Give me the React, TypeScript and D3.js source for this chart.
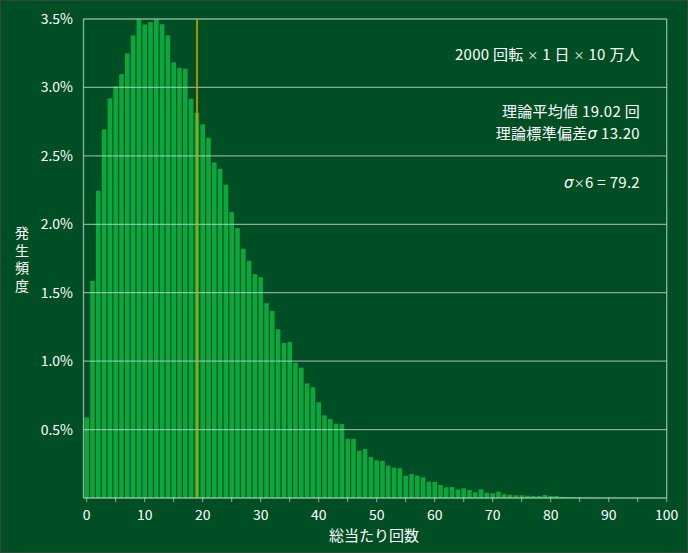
import React from 'react';
import * as d3 from 'd3';

// frequency (%) of total hits 0..99
const hitCounts = d3.range(0, 100);
const frequencies = [
  0.589, 1.587, 2.245, 2.693, 2.92, 3.007, 3.097, 3.248, 3.38, 3.497,
  3.46, 3.477, 3.497, 3.462, 3.38, 3.183, 3.143, 3.136, 2.917, 2.815,
  2.73, 2.632, 2.452, 2.405, 2.289, 2.089, 1.972, 1.821, 1.733, 1.636,
  1.614, 1.423, 1.367, 1.233, 1.134, 1.14, 0.988, 0.952, 0.838, 0.809,
  0.699, 0.604, 0.577, 0.543, 0.541, 0.433, 0.433, 0.346, 0.358, 0.299,
  0.275, 0.272, 0.236, 0.221, 0.217, 0.163, 0.175, 0.163, 0.151, 0.119,
  0.117, 0.095, 0.078, 0.08, 0.063, 0.071, 0.058, 0.041, 0.063, 0.039,
  0.034, 0.046, 0.027, 0.024, 0.02, 0.02, 0.017, 0.015, 0.015, 0.022,
  0.015, 0.015, 0.008, 0.007, 0.006, 0.006, 0.005, 0.004, 0.004, 0.003,
  0.003, 0.002, 0.002, 0.002, 0.001, 0.001, 0.001, 0.001, 0, 0,
];
const yTicks = [0.5, 1.0, 1.5, 2.0, 2.5, 3.0, 3.5];
const xLabelTicks = [0, 10, 20, 30, 40, 50, 60, 70, 80, 90, 100];
const xMinorTicks = d3.range(0, 101, 5);
const theoreticalMean = 19.02;
// each note is a list of [text, style] parts; style 'x' = small times sign, 's' = italic sigma
const notes: [string, string][][] = [
  [['2000 回転 ', ''], ['×', 'x'], [' 1 日 ', ''], ['×', 'x'], [' 10 万人', '']],
  [['理論平均値 19.02 回', '']],
  [['理論標準偏差', ''], ['σ', 's'], ['  13.20', '']],
  [['σ', 's'], ['×', 'x'], ['6 = 79.2', '']],
];
const yTitle = '発生頻度';
const xTitle = '総当たり回数';

const W = 688;
const H = 553;
const FONT = '"Noto Sans CJK JP", "Noto Sans", sans-serif';

export default function App() {
  const svgRef = React.useRef<SVGSVGElement | null>(null);

  React.useEffect(() => {
    const svg = d3.select(svgRef.current);
    svg.selectAll('*').remove();

    const left = 83.5, right = 666.7, top = 19, bottom = 498;
    const x = d3.scaleLinear().domain([-0.55, 100]).range([left, right]);
    const y = d3.scaleLinear().domain([0, 3.5]).range([bottom, top]);
    const bw = 4.6;

    svg.append('rect').attr('width', W).attr('height', H).attr('fill', '#004e24');
    svg.append('rect').attr('x', 0.5).attr('y', 0.5).attr('width', W - 1).attr('height', H - 1)
      .attr('fill', 'none').attr('stroke', '#2f4a3a').attr('stroke-width', 1);

    // Bars
    svg.append('g')
      .selectAll('rect')
      .data(hitCounts)
      .join('rect')
      .attr('x', d => x(d) - bw / 2)
      .attr('width', bw)
      .attr('y', d => y(frequencies[d]))
      .attr('height', d => bottom - y(frequencies[d]))
      .attr('fill', '#0aa83c');

    // Grid
    svg.append('g')
      .selectAll('line')
      .data(yTicks)
      .join('line')
      .attr('x1', left).attr('x2', right)
      .attr('y1', d => y(d)).attr('y2', d => y(d))
      .attr('stroke', 'rgba(190,215,195,0.7)')
      .attr('stroke-width', 1.3);

    // Frame
    const frame = 'rgba(190,215,195,0.75)';
    svg.append('line').attr('x1', left).attr('x2', left).attr('y1', top).attr('y2', bottom).attr('stroke', frame).attr('stroke-width', 1.3);
    svg.append('line').attr('x1', right).attr('x2', right).attr('y1', top).attr('y2', bottom).attr('stroke', frame).attr('stroke-width', 1.3);
    svg.append('line').attr('x1', left).attr('x2', right).attr('y1', bottom).attr('y2', bottom).attr('stroke', frame).attr('stroke-width', 1.3);

    // x ticks
    svg.append('g')
      .selectAll('line')
      .data(xMinorTicks)
      .join('line')
      .attr('x1', d => x(d)).attr('x2', d => x(d))
      .attr('y1', bottom).attr('y2', bottom + 4)
      .attr('stroke', frame).attr('stroke-width', 1);

    svg.append('g')
      .selectAll('text')
      .data(xLabelTicks)
      .join('text')
      .attr('x', d => x(d))
      .attr('y', bottom + 22)
      .attr('text-anchor', 'middle')
      .attr('fill', '#ffffff')
      .attr('font-family', FONT)
      .attr('font-size', 14)
      .text(d => d);

    // y labels
    svg.append('g')
      .selectAll('text')
      .data(yTicks)
      .join('text')
      .attr('x', 73)
      .attr('y', d => y(d) + 5)
      .attr('text-anchor', 'end')
      .attr('fill', '#ffffff')
      .attr('font-family', FONT)
      .attr('font-size', 14)
      .text(d => `${d.toFixed(1)}%`);

    // mean line
    svg.append('line')
      .attr('x1', x(theoreticalMean)).attr('x2', x(theoreticalMean))
      .attr('y1', top).attr('y2', bottom)
      .attr('stroke', '#c9a400').attr('stroke-width', 1.6);

    // notes
    const noteY = [60, 117, 139, 188];
    const nt = svg.append('g')
      .selectAll('text')
      .data(notes)
      .join('text')
      .attr('x', 640)
      .attr('y', (_, i) => noteY[i])
      .attr('text-anchor', 'end')
      .attr('fill', '#ffffff')
      .attr('font-family', FONT)
      .attr('font-size', 15)
      .attr('letter-spacing', 0.3);
    nt.selectAll('tspan')
      .data(d => d)
      .join('tspan')
      .attr('font-size', d => (d[1] === 'x' ? 11 : 15))
      .attr('font-style', d => (d[1] === 's' ? 'italic' : 'normal'))
      .attr('font-family', d => (d[1] === 's' ? '"DejaVu Sans", sans-serif' : FONT))
      .text(d => d[0]);

    // y title, written vertically
    svg.append('text')
      .attr('x', 22)
      .attr('y', 226)
      .attr('fill', '#ffffff')
      .attr('font-family', FONT)
      .attr('font-size', 14)
      .attr('letter-spacing', 3.5)
      .style('writing-mode', 'vertical-rl')
      .text(yTitle);

    svg.append('text')
      .attr('x', 374)
      .attr('y', 541)
      .attr('text-anchor', 'middle')
      .attr('fill', '#ffffff')
      .attr('font-family', FONT)
      .attr('font-size', 15)
      .text(xTitle);
  }, []);

  return (
    <svg ref={svgRef} width={W} height={H} style={{ position: 'absolute', left: 0, top: 0 }} />
  );
}
